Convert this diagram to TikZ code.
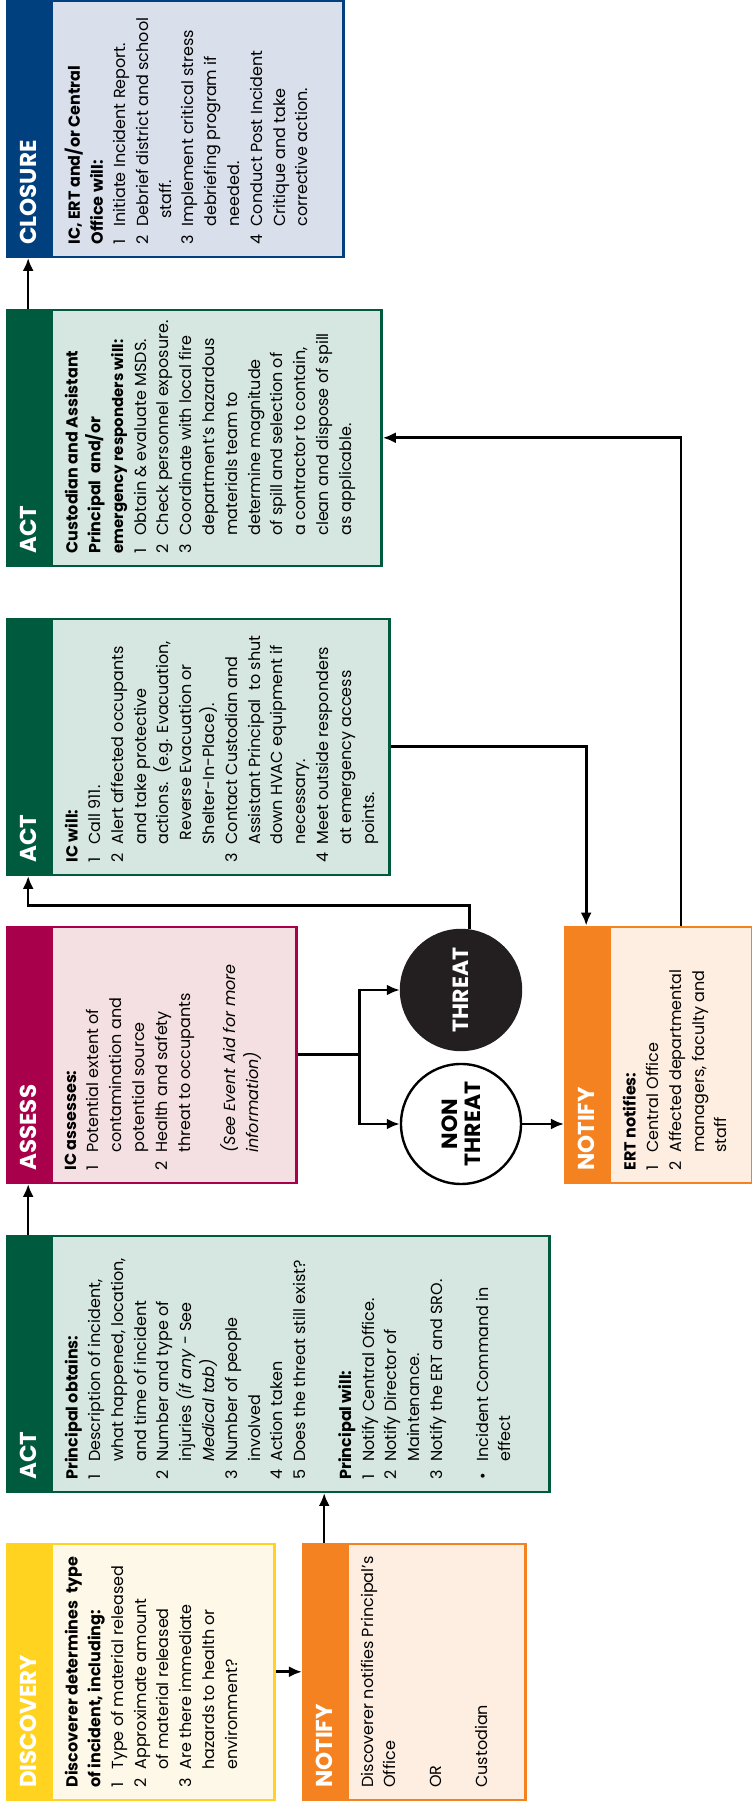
\documentclass[tikz,border=0pt]{standalone}
\usepackage{fontspec}
\setmainfont{Poppins}
\usetikzlibrary{arrows.meta,positioning,calc}
\definecolor{discyel}{HTML}{FFD320}
\definecolor{discbg}{HTML}{FDF8E8}
\definecolor{ntforg}{HTML}{F58220}
\definecolor{ntfbg}{HTML}{FDEEE1}
\definecolor{actgrn}{HTML}{005B3E}
\definecolor{actbg}{HTML}{D6E7E1}
\definecolor{asscrm}{HTML}{A8004A}
\definecolor{assbg}{HTML}{F4DFE2}
\definecolor{closblu}{HTML}{00407F}
\definecolor{closbg}{HTML}{D9DFEB}
\definecolor{thrblk}{HTML}{231F20}
\newcommand{\lnum}[1]{\makebox[9pt][l]{#1}}
\newcommand{\lcont}{\hspace*{9pt}}
\tikzset{>={Latex[width=5.5pt,length=6.5pt]}}
\tikzset{hdr/.style={fill=#1, draw=#1, line width=1.2pt, anchor=north west,
    minimum width=128pt, minimum height=21pt, text width=116pt, align=left,
    inner xsep=6pt, inner ysep=0pt, text=white,
    font=\fontsize{11.5}{12}\selectfont\bfseries}}
\tikzset{panel/.style 2 args={fill=#2, draw=#1, line width=1.2pt,
    minimum width=128pt, inner sep=0pt}}
\tikzset{txt/.style={anchor=north west, inner sep=0pt, align=left,
    font=\fontsize{8}{11.4}\selectfont}}
\tikzset{conn/.style={draw=black, line width=1.3pt}}
\tikzset{decision/.style={circle, minimum size=60pt, inner sep=0pt, line width=1.2pt,
    align=center, font=\fontsize{11}{11.5}\selectfont\bfseries}}

\begin{document}
\begin{tikzpicture}
  \begin{scope}[rotate=90, transform shape, x=1pt, y=1pt]
    \useasboundingbox (0,0) rectangle (903.5,375.5);

    %%%% Discovery and first notify
    \node[hdr=discyel](disch) at (3,372.5) {DISCOVERY};
    \node[panel={discyel}{discbg}, minimum height=111.5pt, below=0pt of disch](disc) {};
    \node[txt](disct) at ($(disc.north west)+(6.5,-7)$) {\textbf{Discoverer determines\ \ type}\\
      \textbf{of incident, including:}\\
      \lnum{1}Type of material released\\
      \lnum{2}Approximate amount\\
      \lcont of material released\\
      \lnum{3}Are there immediate\\
      \lcont hazards to health or\\
      \lcont environment?};

    \node[hdr=ntforg](ntf1h) at (3,224.5) {NOTIFY};
    \node[panel={ntforg}{ntfbg}, minimum height=89pt, below=0pt of ntf1h](ntf1) {};
    \node[txt](ntf1t) at ($(ntf1.north west)+(6.5,-7)$) {Discoverer notifies Principal’s\\
      Office\\[11.4pt]
      OR\\[11.4pt]
      Custodian};

    %%%% First act
    \node[hdr=actgrn](act1h) at (157,372.5) {ACT};
    \node[panel={actgrn}{actbg}, minimum height=249pt, below=0pt of act1h](act1) {};
    \node[txt](act1t) at ($(act1.north west)+(6.5,-7)$) {\textbf{Principal obtains:}\\
      \lnum{1}Description of incident,\\
      \lcont what happened, location,\\
      \lcont and time of incident\\
      \lnum{2}Number and type of\\
      \lcont injuries \textit{(if any} - See\\
      \lcont\textit{Medical tab)}\\
      \lnum{3}Number of people\\
      \lcont involved\\
      \lnum{4}Action taken\\
      \lnum{5}Does the threat still exist?\\[11.4pt]
      \textbf{Principal will:}\\
      \lnum{1}Notify Central Office.\\
      \lnum{2}Notify Director of\\
      \lcont Maintenance.\\
      \lnum{3}Notify the ERT and SRO.\\[11.4pt]
      \lnum{\textbullet}Incident Command in\\
      \lcont effect};

    %%%% Assess
    \node[hdr=asscrm](assh) at (311.5,372.5) {ASSESS};
    \node[panel={asscrm}{assbg}, minimum height=122.5pt, below=0pt of assh](ass) {};
    \node[txt](asst) at ($(ass.north west)+(6.5,-7)$) {\textbf{IC assesses:}\\
      \lnum{1}Potential extent of\\
      \lcont contamination and\\
      \lcont potential source\\
      \lnum{2}Health and safety\\
      \lcont threat to occupants\\[11.4pt]
      \lcont\textit{(See Event Aid for more}\\
      \lcont\textit{information)}};

    %%%% Threat decision
    \node[decision, draw=black, fill=white](nonthr) at (341.5,145) {NON\\THREAT};
    \node[decision, draw=thrblk, fill=thrblk, text=white](thr) at (408.5,145) {THREAT};

    %%%% Second notify
    \node[hdr=ntforg](ntf2h) at (311.5,93.5) {NOTIFY};
    \node[panel={ntforg}{ntfbg}, minimum height=71.5pt, below=0pt of ntf2h](ntf2) {};
    \node[txt](ntf2t) at ($(ntf2.north west)+(6.5,-7)$) {\textbf{ERT notifies:}\\
      \lnum{1}Central Office\\
      \lnum{2}Affected departmental\\
      \lcont managers, faculty and\\
      \lcont staff};

    %%%% Second act
    \node[hdr=actgrn](act2h) at (465.5,372.5) {ACT};
    \node[panel={actgrn}{actbg}, minimum height=169pt, below=0pt of act2h](act2) {};
    \node[txt](act2t) at ($(act2.north west)+(6.5,-7)$) {\textbf{IC will:}\\
      \lnum{1}Call 911.\\
      \lnum{2}Alert affected occupants\\
      \lcont and take protective\\
      \lcont actions.\ \ (e.g. Evacuation,\\
      \lcont\hspace*{2pt}Reverse Evacuation or\\
      \lcont Shelter-In-Place).\\
      \lnum{3}Contact Custodian and\\
      \lcont Assistant Principal\ \ to shut\\
      \lcont down HVAC equipment if\\
      \lcont necessary.\\
      \lnum{4}Meet outside responders\\
      \lcont at emergency access\\
      \lcont points.};

    %%%% Third act
    \node[hdr=actgrn](act3h) at (620,372.5) {ACT};
    \node[panel={actgrn}{actbg}, minimum height=165pt, below=0pt of act3h](act3) {};
    \node[txt](act3t) at ($(act3.north west)+(6.5,-7)$) {\textbf{Custodian and Assistant}\\
      \textbf{Principal\ \ and/or}\\
      {\fontsize{7.5}{11.4}\selectfont\textbf{emergency responders will:}}\\
      \lnum{1}Obtain \& evaluate MSDS.\\
      \lnum{2}Check personnel exposure.\\
      \lnum{3}Coordinate with local fire\\
      \lcont department’s hazardous\\
      \lcont materials team to\\
      \lcont determine magnitude\\
      \lcont of spill and selection of\\
      \lcont a contractor to contain,\\
      \lcont clean and dispose of spill\\
      \lcont as applicable.};

    %%%% Closure
    \node[hdr=closblu](closh) at (774.5,372.5) {CLOSURE};
    \node[panel={closblu}{closbg}, minimum height=146pt, below=0pt of closh](clos) {};
    \node[txt](clost) at ($(clos.north west)+(6.5,-7)$) {\textbf{IC, ERT and/or Central}\\
      \textbf{Office will:}\\
      \lnum{1}Initiate Incident Report.\\
      \lnum{2}Debrief district and school\\
      \lcont\hspace*{4pt}staff.\\
      \lnum{3}Implement critical stress\\
      \lcont debriefing program if\\
      \lcont needed.\\
      \lnum{4}Conduct Post Incident\\
      \lcont Critique and take\\
      \lcont corrective action.};

    %%%% Connectors
    \draw [->][conn] (disc.south) to (ntf1h.north);
    \draw [->][conn] (ntf1h.east) to (ntf1h.east -| act1.west);
    \draw [->][conn] (act1h.east) to (assh.west);
    \draw [conn] (ass.south) -- ++(0,-31) coordinate (brn);
    \draw [->][conn] (brn) -| (thr.north);
    \draw [->][conn] (brn) -| (nonthr.north);
    \draw [->][conn] (nonthr.south) to (nonthr.south |- ntf2h.north);
    \draw [->][conn] (thr.-8) -- ++(12,0) |- (act2h.west);
    \draw [->][conn] (act2.south) |- (ntf2h.east);
    \draw [->][conn] (ntf2.east) -| (act3.south);
    \draw [->][conn] (act3h.east) to (closh.west);
  \end{scope}
\end{tikzpicture}
\end{document}
